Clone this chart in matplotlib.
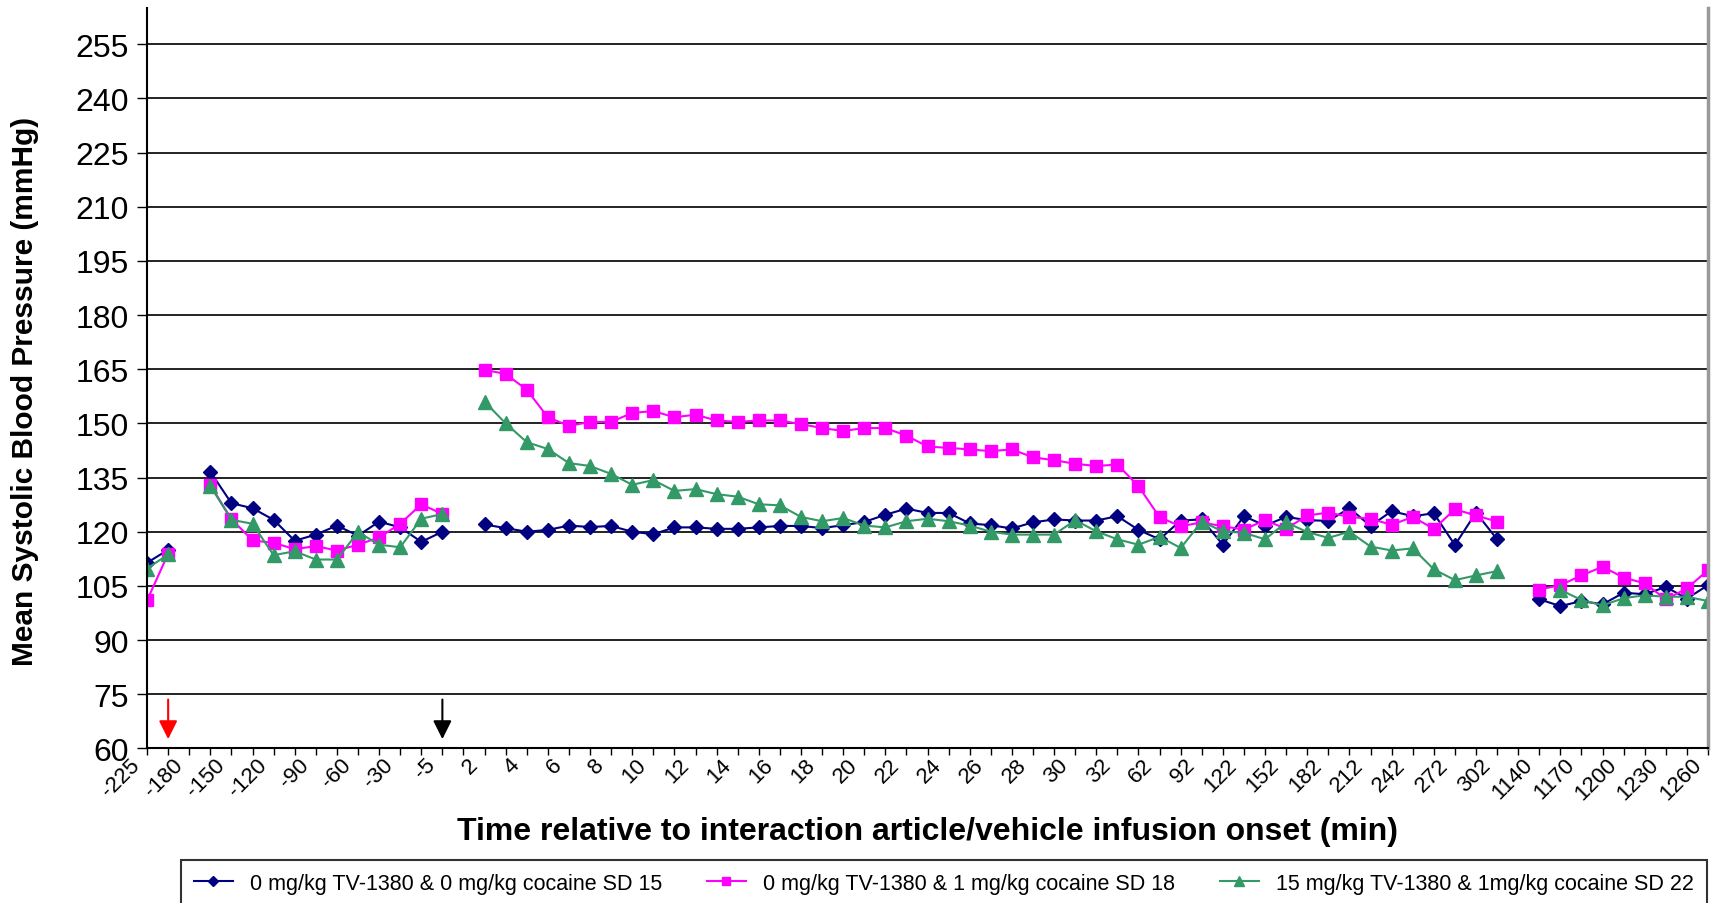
import numpy as np
import matplotlib.pyplot as plt
import matplotlib.transforms as mtransforms

plt.rcParams['font.family'] = ['Liberation Sans', 'DejaVu Sans']

nan = np.nan

# time categories (min); only every other one is labelled on the axis
times = (['-225', '-195', '-180', '-165', '-150', '-135', '-120', '-105', '-90', '-75',
          '-60', '-45', '-30', '-15', '-5', '1']
         + [str(t) for t in range(2, 33)]
         + ['47', '62', '77', '92', '107', '122', '137', '152', '167', '182', '197',
            '212', '227', '242', '257', '272', '287', '302', '317']
         + ['1140', '1155', '1170', '1185', '1200', '1215', '1230', '1245', '1260'])

vehicle = [111.4, 115.0, nan, 136.6, 127.9, 126.5, 123.3, 117.5, 119.2, 121.7, 118.9, 122.8,
           121.2, 117.2, 120.0, nan,
           122.0, 121.0, 120.0, 120.5, 121.7, 121.3, 121.6, 120.0, 119.3, 121.2, 121.2, 120.8,
           120.8, 121.2, 121.6, 121.6, 121.0, 121.8,
           122.7, 124.7, 126.4, 125.2, 125.2, 122.3, 121.8, 120.9, 122.6, 123.4, 123.1, 123.1,
           124.3, 120.5, 117.9, 123.1, 123.4, 116.4, 124.3, 121.7, 124.1,
           123.2, 123.0, 126.5, 121.6, 125.7, 124.3, 125.1, 116.3, 125.3, 117.9, nan,
           101.3, 99.4, 100.8, 99.9, 103.1, 102.7, 104.7, 101.5, 105.2]

cocaine = [101.0, 113.9, nan, 132.9, 123.5, 117.6, 116.9, 115.2, 116.0, 114.8, 116.4, 118.4,
           122.2, 127.6, 124.9, nan,
           164.8, 163.7, 159.3, 151.7, 149.3, 150.4, 150.4, 152.9, 153.4, 151.7, 152.4, 150.8,
           150.4, 150.8, 150.8, 149.8, 148.7, 147.9,
           148.7, 148.7, 146.6, 143.6, 143.2, 142.8, 142.3, 142.8, 140.6, 139.8, 138.8, 138.2,
           138.6, 132.6, 124.0, 121.5, 122.6, 121.5, 120.6, 123.2, 120.8,
           124.5, 125.3, 124.1, 123.6, 121.9, 124.1, 120.8, 126.2, 124.5, 122.8, nan,
           104.0, 105.2, 107.9, 110.3, 107.3, 105.7, 101.3, 104.3, 109.4]

tv_cocaine = [109.8, 113.7, nan, 132.7, 123.3, 122.2, 113.5, 114.6, 112.3, 112.3, 119.9, 116.4,
              115.7, 123.6, 124.9, nan,
              156.0, 150.0, 144.8, 142.9, 139.0, 138.2, 136.0, 133.0, 134.3, 131.3, 131.8, 130.4,
              129.7, 127.6, 127.3, 124.1, 122.9, 123.8,
              121.7, 121.2, 122.9, 123.6, 122.9, 121.7, 120.0, 119.2, 119.2, 119.2, 123.2, 120.1,
              117.9, 116.4, 118.6, 115.5, 122.8, 120.1, 119.7, 117.9, 122.6,
              119.9, 118.3, 120.0, 115.9, 114.8, 115.4, 109.6, 106.6, 107.9, 109.1, nan,
              nan, 103.9, 101.1, 99.6, 101.6, 102.4, 102.0, 102.0, 100.8]

labels = ['0 mg/kg TV-1380 & 0 mg/kg cocaine SD 15',
          '0 mg/kg TV-1380 & 1 mg/kg cocaine SD 18',
          '15 mg/kg TV-1380 & 1mg/kg cocaine SD 22']

x = np.arange(len(times))

fig = plt.figure(figsize=(17.18, 9.04), dpi=100)
ax = fig.add_axes([0.0856, 0.171, 0.9086, 0.819])

ax.plot(x, vehicle, color='#000080', marker='D', markersize=7.5, lw=1.5, label=labels[0])
ax.plot(x, cocaine, color='#FF00FF', marker='s', markersize=8.5, lw=1.5, label=labels[1])
ax.plot(x, tv_cocaine, color='#339966', marker='^', markersize=9.5, lw=1.5, label=labels[2])

# dosing arrows
ax.annotate('', xy=(1, 61.8), xytext=(1, 74.3),
            arrowprops=dict(arrowstyle='-|>', color='red', lw=1.5, mutation_scale=28))
ax.annotate('', xy=(14, 61.8), xytext=(14, 74.3),
            arrowprops=dict(arrowstyle='-|>', color='black', lw=1.5, mutation_scale=28))

ax.set_xlim(0, len(times) - 1)
ax.set_ylim(60, 265)
ax.set_yticks(np.arange(60, 256, 15))
ax.yaxis.grid(True, color='#222222', lw=1.4)
ax.set_axisbelow(True)

# category ticks; labels on every other one, set a little left of the tick like Excel
ax.set_xticks(x)
ax.set_xticklabels([])
ax.tick_params(axis='x', length=5, width=1)
ax.tick_params(axis='y', length=7, width=1, labelsize=23, pad=6)
shift = mtransforms.ScaledTranslation(-0.10, -0.13, fig.dpi_scale_trans)
trans = mtransforms.blended_transform_factory(ax.transData, ax.transAxes) + shift
for i, t in enumerate(times):
    if i % 2 == 0:
        ax.text(i, 0, t, transform=trans, rotation=45, ha='right', va='center',
                rotation_mode='anchor', fontsize=16, clip_on=False)

ax.spines['top'].set_visible(False)
ax.spines['right'].set_color('#999999')
ax.spines['right'].set_linewidth(2.5)
ax.spines['left'].set_linewidth(1.5)
ax.spines['bottom'].set_linewidth(1.5)

ax.set_ylabel('Mean Systolic Blood Pressure (mmHg)', fontsize=21.5, fontweight='bold')
ax.yaxis.set_label_coords(-0.069, 0.484)
fig.text(0.540, 0.0795, 'Time relative to interaction article/vehicle infusion onset (min)',
         fontsize=23, fontweight='bold', ha='center', va='center')

leg = fig.legend(loc='lower left', bbox_to_anchor=(0.1054, -0.004, 0.888, 0.0),
                 mode='expand', ncol=3, fontsize=15.5, frameon=True, fancybox=False,
                 handlelength=1.8, borderpad=0.6, borderaxespad=0, markerscale=0.7)
leg.get_frame().set_edgecolor('black')
leg.get_frame().set_linewidth(1.5)

fig.savefig('out.png', dpi=100)
